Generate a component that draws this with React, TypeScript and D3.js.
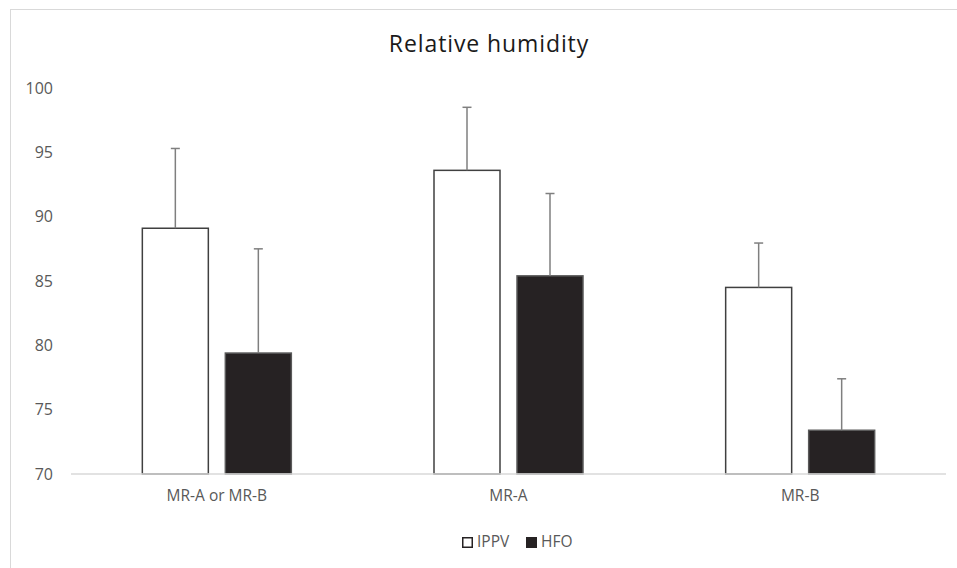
import React from "react";
import * as d3 from "d3";

const categories = ["MR-A or MR-B", "MR-A", "MR-B"];
const seriesNames = ["IPPV", "HFO"];
const ippvValues = [89.1, 93.6, 84.5];
const ippvErrors = [6.2, 4.9, 3.45];
const hfoValues = [79.4, 85.4, 73.4];
const hfoErrors = [8.1, 6.4, 4.0];
const yTicks = [70, 75, 80, 85, 90, 95, 100];

const W = 957;
const H = 568;
const FONT = "'Open Sans', 'Liberation Sans', sans-serif";

export default function App() {
  const x = d3.scaleBand<string>().domain(categories).range([71, 946]).paddingInner(0).paddingOuter(0);
  const y = d3.scaleLinear().domain([70, 100]).range([474, 88]);
  const barW = 66;
  const gap = 17;
  const series = [
    { name: seriesNames[0], values: ippvValues, errors: ippvErrors, fill: "#ffffff", stroke: "#404040" },
    { name: seriesNames[1], values: hfoValues, errors: hfoErrors, fill: "#262223", stroke: "#5a5a5a" },
  ];

  return (
    <div style={{ position: "absolute", left: 0, top: 0 }}>
      <svg width={W} height={H} style={{ display: "block", background: "#fff" }}>
        <rect x={10.5} y={9.5} width={W + 20} height={H + 20} fill="#fff" stroke="#d9d9d9" strokeWidth={1} />
        <text x={489} y={52} textAnchor="middle" fontFamily={FONT} fontSize={23} letterSpacing={0.9} fill="#1a1a1a">
          Relative humidity
        </text>
        {yTicks.map((t) => (
          <text key={t} x={53} y={y(t)} dy="0.35em" textAnchor="end" fontFamily={FONT} fontSize={16} fill="#595959">
            {t}
          </text>
        ))}
        {categories.map((c, ci) => {
          const center = (x(c) as number) + x.bandwidth() / 2;
          return (
            <g key={c}>
              {series.map((s, si) => {
                const bx = si === 0 ? center - gap / 2 - barW : center + gap / 2;
                const v = s.values[ci];
                const top = y(v);
                const ex = bx + barW / 2;
                const et = y(v + s.errors[ci]);
                return (
                  <g key={s.name}>
                    <rect x={bx} y={top} width={barW} height={y(70) - top} fill={s.fill} stroke={s.stroke} strokeWidth={1.5} />
                    <line x1={ex} x2={ex} y1={top} y2={et} stroke="#7f7f7f" strokeWidth={1.5} />
                    <line x1={ex - 4.5} x2={ex + 4.5} y1={et} y2={et} stroke="#7f7f7f" strokeWidth={1.5} />
                  </g>
                );
              })}
              <text x={center} y={496} dy="0.35em" textAnchor="middle" fontFamily={FONT} fontSize={15.5} fill="#595959">
                {c}
              </text>
            </g>
          );
        })}
        <line x1={71} x2={946} y1={y(70)} y2={y(70)} stroke="#d9d9d9" strokeWidth={1.5} />
        <g>
          <rect x={462.75} y={537.75} width={9.5} height={9.5} fill="#fff" stroke="#262223" strokeWidth={1.5} />
          <text x={477} y={542} dy="0.35em" fontFamily={FONT} fontSize={15.5} fill="#595959">{seriesNames[0]}</text>
          <rect x={526} y={537} width={11} height={11} fill="#262223" />
          <text x={541} y={542} dy="0.35em" fontFamily={FONT} fontSize={15.5} fill="#595959">{seriesNames[1]}</text>
        </g>
      </svg>
    </div>
  );
}
